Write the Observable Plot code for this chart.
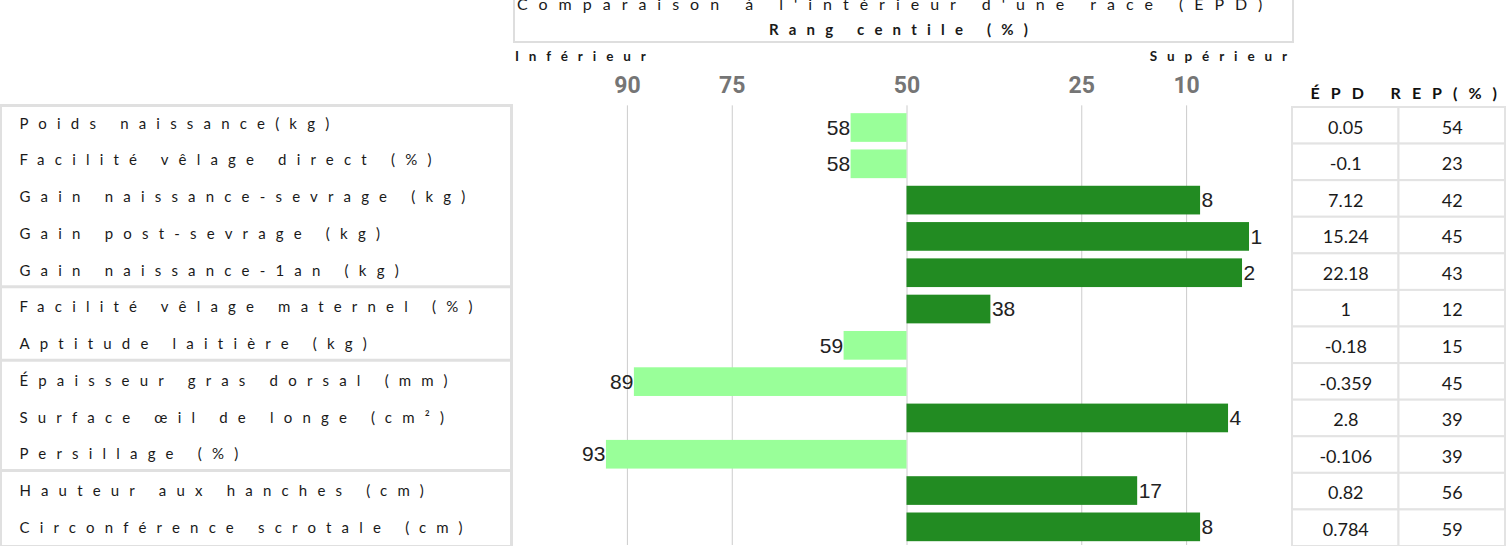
<!DOCTYPE html>
<html>
<head>
<meta charset="utf-8">
<script src="https://cdn.jsdelivr.net/npm/d3@7"></script>
<script src="https://cdn.jsdelivr.net/npm/@observablehq/plot@0.6"></script>
<style>
  body { margin: 0; background: #fff; }
  #wrap { position: relative; width: 1507px; height: 546px; overflow: hidden; font-family: Lato, "Open Sans", sans-serif; color: #1a1a1a; }
  .abs { position: absolute; }
  .abs svg { display: block; background: transparent; }
  g[aria-description="spaced-label"] text { letter-spacing: 10.2px; }
  g[aria-description="spaced-head"] text { letter-spacing: 11px; }
  .ttl { white-space: nowrap; }
</style>
</head>
<body>
<div id="wrap">
  <div class="abs" id="left" style="left:0;top:0"></div>
  <div class="abs" id="mid" style="left:513px;top:0"></div>
  <div class="abs" id="right" style="left:1290px;top:0"></div>
  <div class="abs" style="left:513px;top:-12px;width:781px;height:55px;border:2px solid #dedede;box-sizing:border-box;"></div>
  <div class="abs ttl" id="title" style="left:517px;top:-4px;font-size:16px;line-height:16px;letter-spacing:11px;"></div>
  <div class="abs ttl" id="subtitle" style="left:513px;width:781px;text-align:center;top:22px;font-size:15px;line-height:15px;font-weight:bold;letter-spacing:10.2px;"></div>
  <div class="abs ttl" id="lowLbl" style="left:515px;top:50px;font-size:13.5px;line-height:13px;font-weight:bold;letter-spacing:9.9px;"></div>
  <div class="abs ttl" id="highLbl" style="right:210px;top:50px;font-size:13.5px;line-height:13px;font-weight:bold;letter-spacing:9.9px;"></div>
</div>
<script>
// ---- data ----
const traits = [
  "Poids naissance(kg)",
  "Facilité vêlage direct (%)",
  "Gain naissance-sevrage (kg)",
  "Gain post-sevrage (kg)",
  "Gain naissance-1an (kg)",
  "Facilité vêlage maternel (%)",
  "Aptitude laitière (kg)",
  "Épaisseur gras dorsal (mm)",
  "Surface œil de longe (cm²)",
  "Persillage (%)",
  "Hauteur aux hanches (cm)",
  "Circonférence scrotale (cm)"
];
const percentiles = [58, 58, 8, 1, 2, 38, 59, 89, 4, 93, 17, 8];
const epd = [0.05, -0.1, 7.12, 15.24, 22.18, 1, -0.18, -0.359, 2.8, -0.106, 0.82, 0.784];
const rep = [54, 23, 42, 45, 43, 12, 15, 45, 39, 39, 56, 59];
const xTicks = [90, 75, 50, 25, 10];
const median = 50;
const groupStarts = ["Facilité vêlage maternel (%)", "Épaisseur gras dorsal (mm)", "Hauteur aux hanches (cm)"];
const columns = ["ÉPD", "REP(%)"];
const titleText = "Comparaison à l'intérieur d'une race (ÉPD)";
const subtitleText = "Rang centile (%)";
const lowText = "Inférieur";
const highText = "Supérieur";

const lightGreen = "#99ff99";
const darkGreen = "#228b22";

document.getElementById("title").textContent = titleText;
document.getElementById("subtitle").textContent = subtitleText;
document.getElementById("lowLbl").textContent = lowText;
document.getElementById("highLbl").textContent = highText;

const rows = traits.map((t, i) => ({trait: t, pct: percentiles[i]}));

// ---- left label table ----
const left = Plot.plot({
  width: 513, height: 546,
  marginLeft: 0, marginRight: 2, marginTop: 105, marginBottom: 0,
  y: {type: "band", domain: traits, axis: null, padding: 0, round: false},
  marks: [
    Plot.frame({stroke: "#e0e0e0", strokeWidth: 3}),
    Plot.ruleY(groupStarts, {y: d => d, dy: -21, stroke: "#e0e0e0", strokeWidth: 3}),
    Plot.text(traits, {y: d => d, text: d => d, frameAnchor: "left", textAnchor: "start", lineAnchor: "middle",
      dx: 19, fontSize: 15, fontFamily: "Lato", fill: "#1a1a1a", ariaDescription: "spaced-label"})
  ]
});
document.getElementById("left").appendChild(left);

// ---- middle bar chart ----
const mid = Plot.plot({
  width: 777, height: 546,
  marginLeft: 44, marginRight: 34, marginTop: 109.35, marginBottom: 1,
  x: {domain: [100, 0], axis: null},
  y: {domain: traits, axis: null, paddingInner: 0.21, paddingOuter: 0.105, round: false},
  color: {domain: ["below", "above"], range: [lightGreen, darkGreen]},
  marks: [
    Plot.ruleX(xTicks, {x: d => d, stroke: "#cccccc", strokeWidth: 1, insetTop: -4}),
    Plot.barX(rows, {y: "trait", x1: median, x2: "pct", fill: d => d.pct > median ? "below" : "above"}),
    Plot.text(rows.filter(d => d.pct > median), {y: "trait", x: "pct", text: d => String(d.pct),
      textAnchor: "end", dx: -1, fontSize: 21, fontFamily: "Liberation Sans, Arial", fill: "#222"}),
    Plot.text(rows.filter(d => d.pct <= median), {y: "trait", x: "pct", text: d => String(d.pct),
      textAnchor: "start", dx: 1, fontSize: 21, fontFamily: "Liberation Sans, Arial", fill: "#222"}),
    Plot.text(xTicks, {x: d => d, text: d => String(d), frameAnchor: "top", lineAnchor: "middle", dy: -24,
      fontSize: 23, fontWeight: "bold", fontFamily: "Roboto", fill: "#757575"})
  ]
});
document.getElementById("mid").appendChild(mid);

// ---- right value table ----
const cells = columns.flatMap((c, j) => traits.map((t, i) => ({col: c, trait: t, value: j === 0 ? epd[i] : rep[i]})));
const right = Plot.plot({
  width: 217, height: 546,
  marginLeft: 2, marginRight: 2, marginTop: 107, marginBottom: 0,
  x: {domain: columns, axis: null, padding: 0, round: false},
  y: {domain: traits, axis: null, padding: 0, round: false},
  marks: [
    Plot.cell(cells, {x: "col", y: "trait", fill: "white", stroke: "#e3e3e3", strokeWidth: 2}),
    Plot.text(cells, {x: "col", y: "trait", text: d => String(d.value), dy: 2, fontSize: 18, fontFamily: "Lato", fill: "#1a1a1a"}),
    Plot.text(columns, {x: d => d, text: d => d, frameAnchor: "top", lineAnchor: "middle", dy: -14, dx: -3,
      fontSize: 16, fontWeight: "bold", fontFamily: "Lato", fill: "#111", ariaDescription: "spaced-head"})
  ]
});
document.getElementById("right").appendChild(right);
</script>
</body>
</html>
